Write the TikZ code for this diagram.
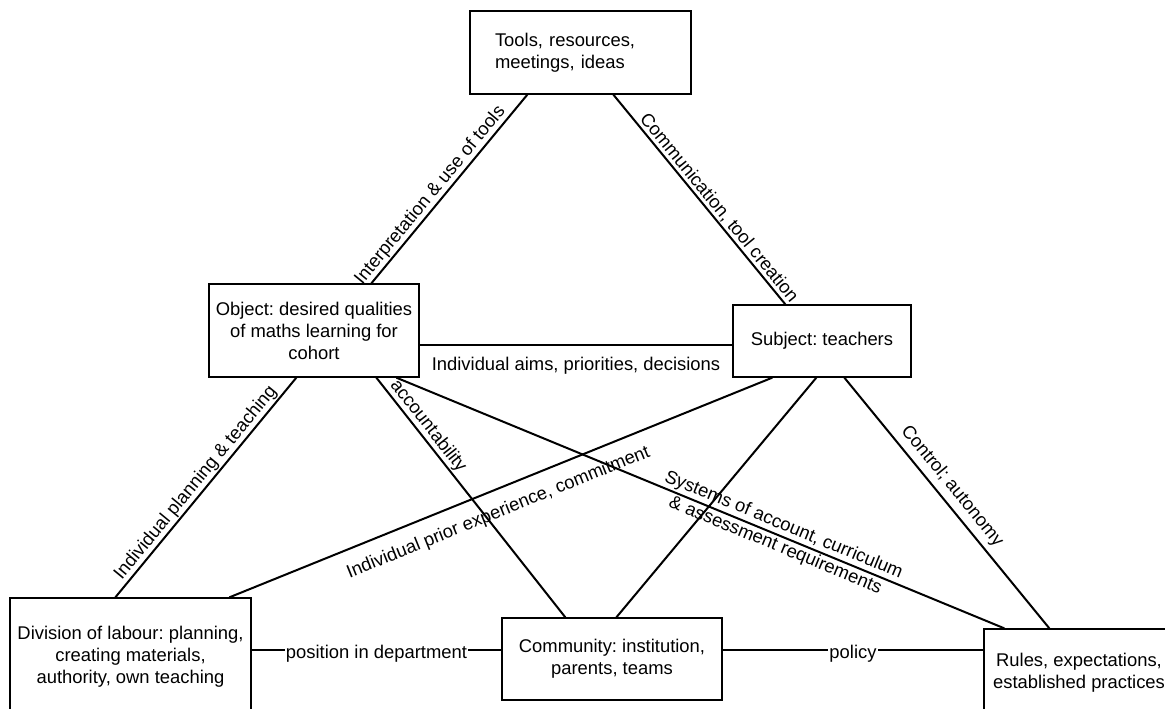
\documentclass[tikz,border=0pt]{standalone}
\usepackage{fontspec}
\setmainfont{Liberation Sans}
\usetikzlibrary{calc}
\newcommand\fs{\fontsize{18.4}{22}\selectfont}
\frenchspacing
\tikzset{
  box/.style={draw, line width=1.3pt, fill=white, rectangle, inner sep=0pt, align=center, font=\fs},
  conn/.style={line width=2pt},
  lbl/.style={font=\fs, inner sep=1pt, sloped},
  flat/.style={font=\fs, inner sep=1pt}
}
\begin{document}
\frenchspacing
\begin{tikzpicture}[x=1pt,y=1pt]
\clip (0,0) rectangle (1165,-709);
\fill[white] (0,0) rectangle (1165,-709);
% boxes
\node[box, minimum width=221pt, minimum height=83pt, text width=171pt, inner xsep=25pt, align=left] (tools) at (580.5,-52.5) {Tools, resources,\\meetings, ideas};
\node[box, minimum width=210pt, minimum height=93pt] (object) at (314,-330.5) {Object: desired qualities\\of maths learning for\\cohort};
\node[box, minimum width=178pt, minimum height=72pt] (subject) at (822,-341) {Subject: teachers};
\node[box, minimum width=241pt, minimum height=118pt] (division) at (130.5,-657) {Division of labour: planning,\\creating materials,\\authority, own teaching};
\node[box, minimum width=220pt, minimum height=82pt] (community) at (612,-659) {Community: institution,\\parents, teams};
\node[box, minimum width=190pt, minimum height=87pt] (rules) at (1079,-672.5) {Rules, expectations,\\established practices};
% connectors
\draw[conn] ($(object.north west)+(163,0)$) -- node[lbl, above, pos=0.43] {Interpretation \& use of tools} ($(tools.south west)+(58,0)$);
\draw[conn] ($(tools.south west)+(144,0)$) -- node[lbl, above, pos=0.57] {Communication, tool creation} ($(subject.north west)+(53,0)$);
\draw[conn] ($(object.north east)+(0,-62)$) -- node[flat, below=10pt] {Individual aims, priorities, decisions} ($(subject.north west)+(0,-41)$);
\draw[conn] ($(division.north west)+(106,0)$) -- node[lbl, above, pos=0.49] {Individual planning \& teaching} ($(object.south west)+(88,0)$);
\draw[conn] ($(object.south west)+(168,0)$) -- node[lbl, above, pos=0.23] {accountability} ($(community.north west)+(64,0)$);
\draw[conn] ($(object.south west)+(188,0)$) -- node[lbl, pos=0.63, align=center] {Systems of account, curriculum\\\& assessment requirements} ($(rules.north west)+(21,0)$);
\draw[conn] ($(division.north west)+(220,0)$) -- node[lbl, below=12pt, pos=0.48] {Individual prior experience, commitment} ($(subject.south west)+(40,0)$);
\draw[conn] ($(subject.south west)+(84,0)$) -- ($(community.north west)+(115,0)$);
\draw[conn] ($(subject.south west)+(112,0)$) -- node[lbl, above=4pt, pos=0.47] {Control; autonomy} ($(rules.north west)+(66,0)$);
\draw[conn] ($(division.north east)+(0,-53)$) -- node[flat, fill=white, yshift=-3pt] {position in department} ($(community.north west)+(0,-33)$);
\draw[conn] ($(community.north east)+(0,-33)$) -- node[flat, fill=white, yshift=-3pt] {policy} ($(rules.north west)+(0,-22)$);
\end{tikzpicture}
\end{document}
